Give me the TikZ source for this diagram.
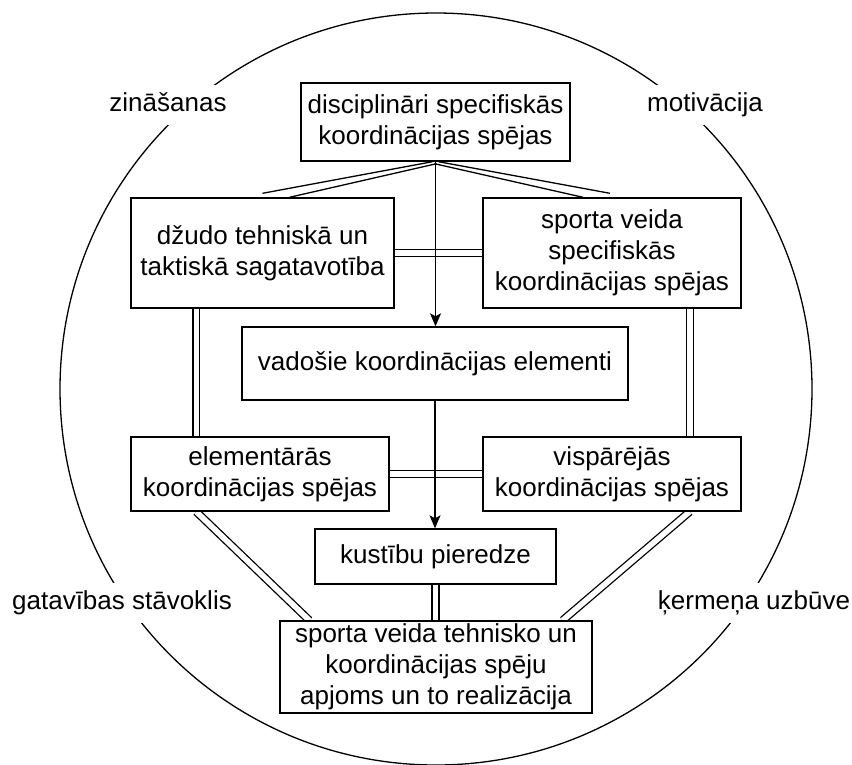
\documentclass[tikz,border=0pt]{standalone}
\usepackage{fontspec}
\setmainfont{Liberation Sans}
\usetikzlibrary{calc,arrows.meta}
\pgfdeclarelayer{background}
\pgfsetlayers{background,main}

\begin{document}
\begin{tikzpicture}[x=1pt,y=-1pt,
  every node/.style={font=\fontsize{26}{31.2}\selectfont},
  box/.style={draw, line width=1.4pt, fill=white, align=center, inner sep=0pt},
  tag/.style={fill=white, inner xsep=4pt, inner ysep=0pt, minimum height=40pt,
    text height=19pt, text depth=6pt},
  strand/.style={line width=1.3pt},
  dbl/.style={line width=1.3pt, double=white, double distance=5.6pt},
  flow/.style={line width=1.3pt, -{Stealth[length=13pt,width=11pt,inset=3pt]}},
]
\useasboundingbox (0,0) rectangle (852,764);

% outer circle of influencing factors
\draw[line width=1.3pt] (436,389) circle[radius=376];

% boxes
\node[box, minimum width=269pt, minimum height=78pt] (top) at (435.5,122)
  {disciplināri specifiskās\\koordinācijas spējas};
\node[box, minimum width=263pt, minimum height=110pt] (L) at (262.5,253)
  {džudo tehniskā un\\taktiskā sagatavotība};
\node[box, minimum width=258pt, minimum height=110pt] (R) at (612,253)
  {sporta veida\\specifiskās\\koordinācijas spējas};
\node[box, minimum width=386pt, minimum height=73pt] (V) at (435,363.5)
  {vadošie koordinācijas elementi};
\node[box, minimum width=258pt, minimum height=74pt] (E) at (260,474)
  {elementārās\\koordinācijas spējas};
\node[box, minimum width=258pt, minimum height=74pt] (G) at (612,474)
  {vispārējās\\koordinācijas spējas};
\node[box, minimum width=241pt, minimum height=55pt] (K) at (435.5,556.5)
  {kustību pieredze};
\node[box, minimum width=312pt, minimum height=92pt] (B) at (436,667)
  {sporta veida tehnisko un\\koordinācijas spēju\\apjoms un to realizācija};

% double links behind the boxes
\begin{pgfonlayer}{background}
  \draw[strand] ($(top.south)+(-3,0)$) -- ($(L.north)+(0,-4)$);
  \draw[strand] ($(top.south)+(1,2)$) -- ($(L.north)+(27,0)$);
  \draw[strand] ($(top.south)+(3,0)$) -- ($(R.north)+(-2,-4)$);
  \draw[strand] ($(top.south)+(-1,2)$) -- ($(R.north)+(-29,0)$);
  \draw[dbl] (L.east) -- (R.west);
  \draw[dbl] ($(L.south west)+(66,0)$) -- ($(E.north west)+(66,0)$);
  \draw[dbl] ($(R.south east)+(-52,0)$) -- ($(G.north east)+(-52,0)$);
  \draw[dbl] (E.east) -- (G.west);
  \draw[dbl] ($(E.south west)+(66,0)$) -- ($(B.north west)+(30,0)$);
  \draw[dbl] ($(G.south east)+(-52,0)$) -- ($(B.north east)+(-30,0)$);
  \draw[dbl] (K.south) -- (K.south |- B.north);
\end{pgfonlayer}

% main flow arrows
\draw[flow] (top.south) -- (top.south |- V.north);
\draw[flow] (V.south) -- (V.south |- K.north);

% factor labels on the circle
\node[tag] (know) at (168,105) {zināšanas};
\node[tag] (motiv) at (705,105) {motivācija};
\node[tag] (ready) at (122,603) {gatavības stāvoklis};
\node[tag] (body) at (754,603) {ķermeņa uzbūve};
\end{tikzpicture}
\end{document}
